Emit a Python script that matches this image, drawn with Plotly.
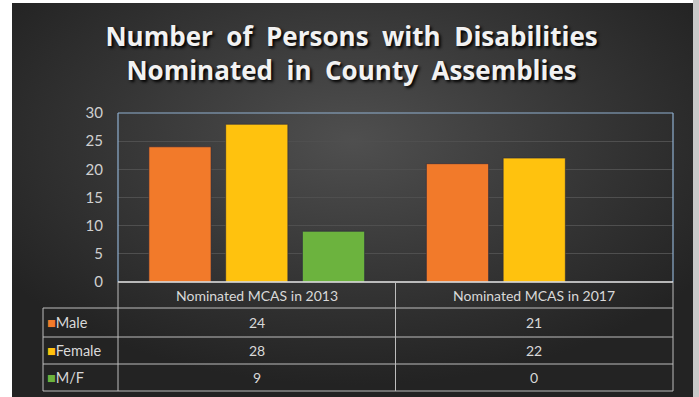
import base64
import plotly.graph_objects as go

categories = ["Nominated MCAS in 2013", "Nominated MCAS in 2017"]
series_names = ["Male", "Female", "M/F"]
male = [24, 21]
female = [28, 22]
mf = [9, 0]
series_values = [male, female, mf]
series_colors = ["#F27A2A", "#FFC20E", "#6CB33E"]
y_ticks = [0, 5, 10, 15, 20, 25, 30]
title_lines = ["Number&nbsp; of&nbsp; Persons&nbsp; with&nbsp; Disabilities",
               "Nominated&nbsp; in&nbsp; County&nbsp; Assemblies"]

W, H = 699, 397
L, R, T, B = 118, 26, 113, 115
PH = H - T - B
PW = W - L - R


def py(yp):
    return (H - B - yp) / PH


def px(xp):
    return (xp - L) / PW


fig = go.Figure()
for name, vals, col in zip(series_names, series_values, series_colors):
    fig.add_trace(go.Bar(
        x=categories, y=vals, name=name,
        marker=dict(color=col, line=dict(color="rgba(40,40,60,0.6)", width=1)),
        showlegend=False,
    ))

svg = f'''<svg xmlns="http://www.w3.org/2000/svg" width="{W}" height="{H}">
<defs><radialGradient id="g" cx="50%" cy="35%" r="62%">
<stop offset="0%" stop-color="#4f4f4f"/>
<stop offset="60%" stop-color="#343434"/>
<stop offset="100%" stop-color="#232323"/>
</radialGradient></defs>
<rect width="{W}" height="{H}" fill="#ffffff"/>
<rect x="{W-6}" y="0" width="6" height="{H}" fill="#c9c9c9"/>
<rect x="12" y="3" width="{W-18}" height="{H-3}" fill="url(#g)"/>
</svg>'''
src = "data:image/svg+xml;base64," + base64.b64encode(svg.encode()).decode()

fig.add_layout_image(dict(source=src, xref="paper", yref="paper",
                          x=px(0), y=py(0), sizex=W / PW, sizey=H / PH,
                          xanchor="left", yanchor="top", sizing="stretch",
                          layer="below"))

line_col = "#bdbdbd"
shapes = []
border = "#8fb0d0"
shapes.append(dict(type="line", xref="paper", yref="paper", x0=0, x1=1, y0=1, y1=1, line=dict(color=border, width=1.2)))
shapes.append(dict(type="line", xref="paper", yref="paper", x0=0, x1=0, y0=0, y1=1, line=dict(color=border, width=1.2)))
shapes.append(dict(type="line", xref="paper", yref="paper", x0=1, x1=1, y0=0, y1=1, line=dict(color=border, width=1.2)))

row_edges = [282, 308, 337, 364, 391]
left_col = px(43)
shapes.append(dict(type="line", xref="paper", yref="paper", x0=0, x1=1, y0=py(282), y1=py(282), line=dict(color="#e8e8e8", width=1.5)))
for ye in row_edges[1:]:
    shapes.append(dict(type="line", xref="paper", yref="paper", x0=left_col, x1=1, y0=py(ye), y1=py(ye), line=dict(color=line_col, width=1)))
for xv in [0, 0.5, 1]:
    shapes.append(dict(type="line", xref="paper", yref="paper", x0=xv, x1=xv, y0=py(282), y1=py(391), line=dict(color=line_col, width=1)))
shapes.append(dict(type="line", xref="paper", yref="paper", x0=left_col, x1=left_col, y0=py(308), y1=py(391), line=dict(color=line_col, width=1)))

annotations = []
for i, cat in enumerate(categories):
    annotations.append(dict(x=cat, xref="x", y=py((row_edges[0] + row_edges[1]) / 2), yref="paper",
                            text=cat, showarrow=False,
                            font=dict(family="Lato, Arial", size=14, color="#d9d9d9"),
                            xanchor="center", yanchor="middle"))
for r, (name, vals, col) in enumerate(zip(series_names, series_values, series_colors)):
    yc = py((row_edges[r + 1] + row_edges[r + 2]) / 2)
    annotations.append(dict(x=px(45), xref="paper", y=yc, yref="paper",
                            text=f'<span style="color:{col}">■</span>{name}', showarrow=False,
                            font=dict(family="Lato, Arial", size=14.5, color="#d9d9d9"),
                            xanchor="left", yanchor="middle"))
    for cat, v in zip(categories, vals):
        annotations.append(dict(x=cat, xref="x", y=yc, yref="paper", text=str(v), showarrow=False,
                                font=dict(family="Lato, Arial", size=14, color="#d9d9d9"),
                                xanchor="center", yanchor="middle"))

fig.update_layout(
    width=W, height=H,
    margin=dict(l=L, r=R, t=T, b=B, pad=0),
    paper_bgcolor="#ffffff",
    plot_bgcolor="rgba(0,0,0,0)",
    barmode="group", bargap=0.17, bargroupgap=0.19,
    title=dict(text="<br>".join(title_lines),
               x=0.503, xanchor="center", y=1 - 46 / H, yanchor="middle", yref="container",
               font=dict(family="Open Sans", size=26, color="#f2f2f2", weight="bold",
                         shadow="2px 2px 3px #000000")),
    xaxis=dict(showticklabels=False, showgrid=False, zeroline=False, showline=False),
    yaxis=dict(range=[0, 30], tickvals=y_ticks, showgrid=True, gridcolor="#4f4f4f", gridwidth=1,
               zeroline=False, showline=False, ticks="", ticklabelstandoff=14,
               tickfont=dict(family="Lato, Arial", size=15, color="#d0d0d0")),
    shapes=shapes, annotations=annotations,
)

fig.write_html("out.html")
